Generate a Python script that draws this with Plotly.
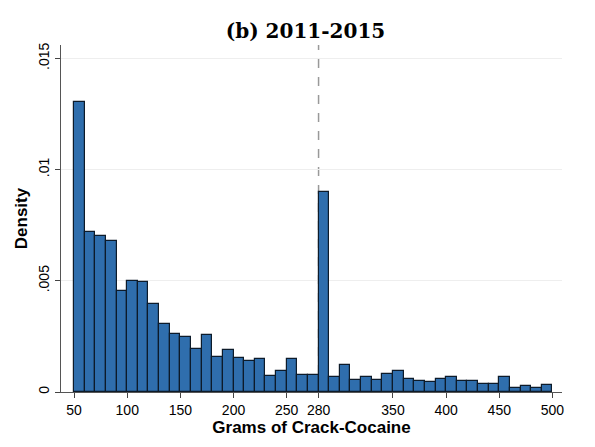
import plotly.graph_objects as go

bin_starts = list(range(50, 500, 10))
density = [0.01305, 0.0072, 0.00702, 0.00681, 0.00456, 0.00498, 0.00495, 0.00396, 0.00306, 0.00261,
           0.00249, 0.00194, 0.00255, 0.00158, 0.00189, 0.00153, 0.00141, 0.0015, 0.00072, 0.00096,
           0.00147, 0.00078, 0.00078, 0.00897, 0.00068, 0.00122, 0.00053, 0.00068, 0.00056, 0.00083,
           0.00095, 0.00059, 0.0005, 0.00047, 0.00059, 0.00068, 0.0005, 0.0005, 0.00035, 0.00035,
           0.00068, 0.00017, 0.00029, 0.0002, 0.00032]
xticks = [50, 100, 150, 200, 250, 280, 350, 400, 450, 500]
yticks = [0, 0.005, 0.01, 0.015]
ytick_labels = ["0", ".005", ".01", ".015"]
threshold = 280

fig = go.Figure(go.Bar(
    x=[b + 5 for b in bin_starts], y=density, width=10,
    marker=dict(color="#2f6ead", line=dict(color="#0d1b2a", width=1.2)),
))
fig.add_shape(type="line", x0=threshold, x1=threshold, y0=0, y1=0.0156,
              line=dict(color="#999999", width=1.5, dash="dash"), layer="below")
fig.update_layout(
    width=595, height=447, plot_bgcolor="white", paper_bgcolor="white",
    margin=dict(l=53, r=41, t=37, b=63, autoexpand=False), showlegend=False, bargap=0,
    title=dict(text="<b>(b) 2011-2015</b>", x=0.5, xanchor="center", y=0.965,
               font=dict(family="DejaVu Serif", size=20, color="black")),
    font=dict(family="Liberation Sans", color="black"),
)
fig.update_xaxes(range=[37.7, 509], tickvals=xticks, ticks="outside", ticklen=5,
                 showline=True, linecolor="#555", showgrid=False,
                 tickfont=dict(size=14),
                 title=dict(text="<b>Grams of Crack-Cocaine</b>", font=dict(size=17), standoff=2))
fig.update_yaxes(range=[0, 0.0156], tickvals=yticks, ticktext=ytick_labels, tickangle=-90,
                 ticks="outside", ticklen=5, showline=True, linecolor="#555",
                 showgrid=True, gridcolor="#eeeeee", zeroline=False,
                 tickfont=dict(size=14),
                 title=dict(text="<b>Density</b>", font=dict(size=17), standoff=4))
fig.write_html("out.html")
